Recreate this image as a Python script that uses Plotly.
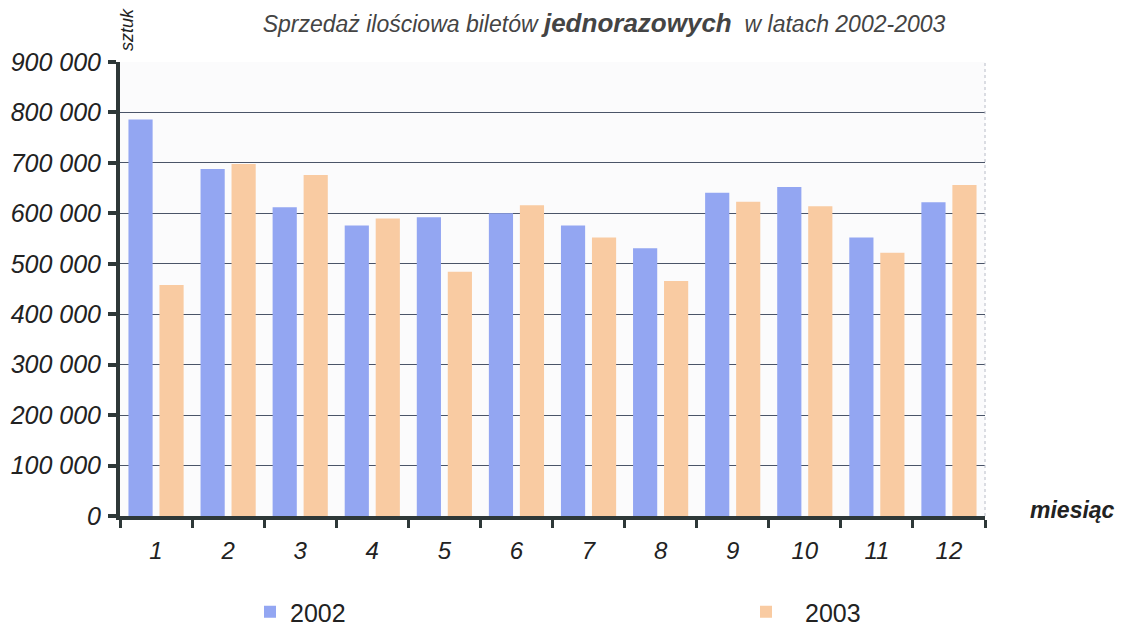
import plotly.graph_objects as go

months = ["1", "2", "3", "4", "5", "6", "7", "8", "9", "10", "11", "12"]
sales_2002 = [786000, 688000, 612000, 576000, 592000, 600000, 576000, 531000, 641000, 652000, 552000, 622000]
sales_2003 = [458000, 698000, 676000, 590000, 484000, 616000, 552000, 466000, 623000, 614000, 522000, 656000]
y_ticks = [0, 100000, 200000, 300000, 400000, 500000, 600000, 700000, 800000, 900000]
y_tick_text = ["0", "100 000", "200 000", "300 000", "400 000", "500 000",
               "600 000", "700 000", "800 000", "900 000"]

FONT = "Liberation Sans, Arial, sans-serif"
AXIS_COL = "#2e3838"
OFF = 8  # page body margin
W, H = 1123 - OFF, 627 - OFF
L, T = 120 - OFF, 62 - OFF
PW, PH = 865, 454

fig = go.Figure()
fig.add_trace(go.Bar(name="2002", x=months, y=sales_2002, marker_color="#93a6f2",
                     marker_line_width=0, legend="legend"))
fig.add_trace(go.Bar(name="2003", x=months, y=sales_2003, marker_color="#f9cba2",
                     marker_line_width=0, legend="legend2"))

legend_common = dict(
    orientation="h", yanchor="middle", xanchor="left",
    font=dict(size=25, color="#222222", family=FONT),
    bgcolor="rgba(0,0,0,0)",
)

fig.update_layout(
    width=W, height=H,
    margin=dict(l=L, r=W - L - PW, t=T, b=H - T - PH, autoexpand=False),
    paper_bgcolor="white",
    plot_bgcolor="#fbfbfc",
    barmode="group",
    bargap=0.14,
    bargroupgap=0.22,
    font=dict(family=FONT, color="#222222"),
    title=dict(
        text="<i>Sprzedaż ilościowa biletów </i><b><i><span style='font-size:26px'>jednorazowych</span></i></b><i>  w latach 2002-2003</i>",
        x=((248 + 960) / 2 - OFF) / W, xanchor="center",
        y=1 - (24 - OFF) / H, yanchor="middle",
        font=dict(size=23, color="#444444", family=FONT),
    ),
    showlegend=True,
    legend=dict(legend_common, x=(250 - 120) / PW, y=-96 / PH),
    legend2=dict(legend_common, x=(727 - 120) / PW, y=-96 / PH, itemwidth=68),
    xaxis=dict(
        type="category", automargin=False,
        showline=True, linecolor=AXIS_COL, linewidth=4,
        ticks="outside", tickson="boundaries", ticklen=8, tickwidth=3, tickcolor=AXIS_COL,
        tickfont=dict(size=24, family=FONT, style="italic", color="#222222"),
        ticklabelstandoff=10,
        showgrid=False,
        zeroline=False,
    ),
    yaxis=dict(
        range=[0, 900000], automargin=False,
        tickvals=y_ticks, ticktext=y_tick_text,
        showline=True, linecolor=AXIS_COL, linewidth=4,
        ticks="outside", ticklen=8, tickwidth=4, tickcolor=AXIS_COL,
        tickfont=dict(size=25, family=FONT, style="italic", color="#222222"),
        ticklabelstandoff=2,
        showgrid=True, gridcolor="#4a5468", gridwidth=1.4,
        zeroline=False,
    ),
    annotations=[
        dict(text="<i>sztuk</i>", xref="paper", yref="paper",
             x=7 / PW, y=1 + 32 / PH, textangle=-90, showarrow=False,
             font=dict(size=18, family=FONT, color="#222222"),
             xanchor="center", yanchor="middle"),
        dict(text="<b><i>miesiąc</i></b>", xref="paper", yref="paper",
             x=(1072 - 120) / PW, y=6 / PH, showarrow=False,
             font=dict(size=23, family=FONT, color="#222222"),
             xanchor="center", yanchor="middle"),
    ],
    shapes=[
        dict(type="line", xref="paper", yref="paper", x0=1, x1=1, y0=0, y1=1,
             line=dict(color="#b8bcc8", width=1, dash="dot")),
    ],
)

fig.write_html("out.html")
